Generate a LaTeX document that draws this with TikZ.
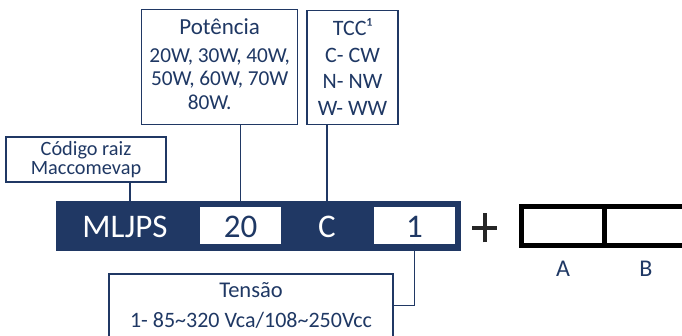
\documentclass[tikz,border=0pt]{standalone}
\usepackage{fontspec}
\setmainfont{Carlito}
\definecolor{navy}{HTML}{203864}
\definecolor{ink}{HTML}{1F3864}
\definecolor{plusc}{HTML}{262626}
\tikzset{
  frame/.style={draw=navy, line width=1.2pt, fill=white, inner sep=0pt, outer sep=0pt},
  conn/.style={draw=navy, line width=1.2pt},
  lbl/.style={text=ink, inner sep=0pt, outer sep=0pt, align=center},
  whitebox/.style={fill=white, draw=none, inner sep=0pt, outer sep=0pt, minimum width=81pt, minimum height=37pt},
  fs/.style={font=\fontsize{#1}{#1}\selectfont}
}
\begin{document}
\begin{tikzpicture}[x=1pt,y=-1pt]
\useasboundingbox (0,0) rectangle (682,336);
% boxes
\node[frame, minimum width=156pt, minimum height=115pt] (pot) at (219.7,66.8) {};
\node[frame, minimum width=91pt, minimum height=113.6pt] (tcc) at (352.5,67.5) {};
\node[frame, minimum width=160pt, minimum height=45pt] (cod) at (86,159.5) {};
\node[frame, minimum width=284pt, minimum height=63pt] (tensao) at (251,305.5) {};
% bar
\node[fill=navy, draw=none, inner sep=0pt, outer sep=0pt, minimum width=405pt, minimum height=50pt] (bar) at (258.5,226) {};
\node[whitebox] (twentybox) at (240.5,225.5) {};
\node[whitebox] (onebox) at (414.5,225.5) {};
\node[lbl, text=white, fs=33] (mljps) at (125,227) {MLJPS};
\node[lbl, fs=33] (twenty) at (240.5,227) {20};
\node[lbl, text=white, fs=33] (cc) at (327,227) {C};
\node[lbl, fs=33] (one) at (414.5,227) {1};
% texts in boxes
\node[lbl, fs=23] (ptitle) at (219.7,27) {Potência};
\node[lbl, font=\fontsize{21.3}{23.5}\selectfont] (pvals) at (219.7,79) {20W, 30W, 40W,\\50W, 60W, 70W\\80W.\hspace*{20pt}};
\node[lbl, font=\fontsize{22}{26.7}\selectfont] (tcctxt) at (352.5,67) {TCC¹\\C- CW\\N- NW\\W- WW};
\node[lbl, font=\fontsize{20.3}{19.5}\selectfont] (codtxt) at (86,159.5) {Código raiz\\Maccomevap};
\node[lbl, fs=22.5] (ttitle) at (251,290) {Tensão};
\node[lbl, fs=22] (tval) at (251,320) {1- 85\char`~320 Vca/108\char`~250Vcc};
% connectors
\draw[conn] ([xshift=5pt]mljps.north |- cod.south) -- ([xshift=5pt]mljps.north |- bar.north);
\draw[conn] (pot.south -| twentybox.north) -- (twentybox.north |- bar.north);
\draw[conn] (tcc.south -| cc.north) -- (cc.north |- bar.north);
\draw[conn] (onebox.south) |- (tensao.east);
% plus
\coordinate (pc) at (484.5,228);
\draw[plusc, line width=4pt] ([xshift=-12.5pt]pc) -- ([xshift=12.5pt]pc);
\draw[plusc, line width=4pt] ([yshift=-14.5pt]pc) -- ([yshift=14.5pt]pc);
% right box
\coordinate (rtl) at (521.5,206.5);
\coordinate (rbl) at (521.5,246);
\draw[black, line width=5pt] (684,206.5) -- (rtl) -- (rbl) -- (684,246);
\draw[black, line width=5pt] (604,206.5) -- (604,246);
\node[lbl, fs=24] (A) at (563,269) {A};
\node[lbl, fs=24] (B) at (646,269) {B};
\end{tikzpicture}
\end{document}
